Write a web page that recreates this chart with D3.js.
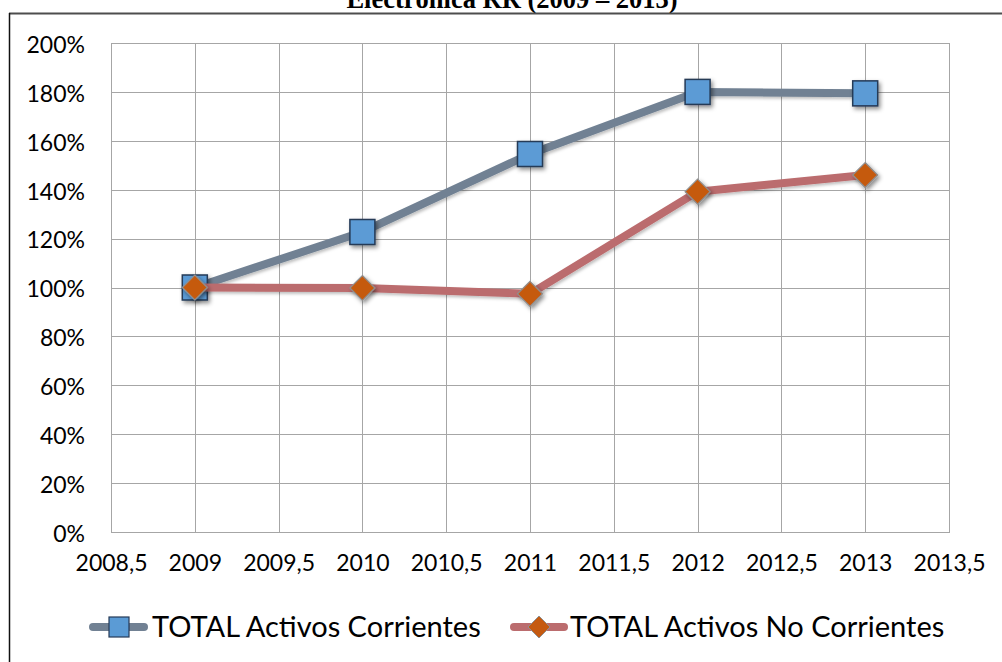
<!DOCTYPE html>
<html><head><meta charset="utf-8">
<script src="https://cdn.jsdelivr.net/npm/d3@7"></script>
<style>body{margin:0;background:#fff}svg{display:block}</style>
</head><body>
<svg id="c" width="1002" height="662"></svg>
<script>
const years = [2009, 2010, 2011, 2012, 2013];
const corrientes = [1.00, 1.227, 1.546, 1.80, 1.794];
const noCorrientes = [1.00, 0.998, 0.974, 1.392, 1.46];
const xTicks = [2008.5, 2009, 2009.5, 2010, 2010.5, 2011, 2011.5, 2012, 2012.5, 2013, 2013.5];
const yTicks = [0, 0.2, 0.4, 0.6, 0.8, 1.0, 1.2, 1.4, 1.6, 1.8, 2.0];
const seriesNames = ["TOTAL Activos Corrientes", "TOTAL Activos No Corrientes"];
const title = "Electrónica RR (2009 – 2013)";

const svg = d3.select("#c");
const m = {l: 111, t: 43, r: 949, b: 532};
const x = d3.scaleLinear().domain([2008.5, 2013.5]).range([m.l, m.r]);
const y = d3.scaleLinear().domain([0, 2]).range([m.b, m.t]);
const font = "Lato, 'Open Sans', sans-serif";

const defs = svg.append("defs");
const f = defs.append("filter").attr("id","sh").attr("x","-50%").attr("y","-50%").attr("width","200%").attr("height","200%");
f.append("feDropShadow").attr("dx",2).attr("dy",2.5).attr("stdDeviation",2).attr("flood-color","#000").attr("flood-opacity",0.45);
const f2 = defs.append("filter").attr("id","shl").attr("x","-10%").attr("y","-10%").attr("width","120%").attr("height","120%");
f2.append("feDropShadow").attr("dx",1.5).attr("dy",2).attr("stdDeviation",1.5).attr("flood-color","#000").attr("flood-opacity",0.25);

// title (partially cut at top, as in the reference)
svg.append("text").attr("x", 512).attr("y", 8).attr("text-anchor","middle")
  .attr("font-family","'Liberation Serif', 'Times New Roman', serif").attr("font-weight","bold")
  .attr("font-size", 26.5).attr("fill","#000").text(title);

// outer frame
svg.append("line").attr("x1",9).attr("x2",1002).attr("y1",13.5).attr("y2",13.5).attr("stroke","#4d4d4d").attr("stroke-width",2);
svg.append("line").attr("x1",9.5).attr("x2",9.5).attr("y1",13).attr("y2",662).attr("stroke","#111").attr("stroke-width",1.5);

// grid
const g = svg.append("g");
g.selectAll(".gx").data(xTicks).join("line").attr("x1",d=>Math.round(x(d))+0.5).attr("x2",d=>Math.round(x(d))+0.5)
  .attr("y1",m.t).attr("y2",m.b).attr("stroke","#a6a6a6").attr("stroke-width",1);
g.selectAll(".gy").data(yTicks).join("line").attr("y1",d=>Math.round(y(d))+0.5).attr("y2",d=>Math.round(y(d))+0.5)
  .attr("x1",m.l).attr("x2",m.r).attr("stroke","#a6a6a6").attr("stroke-width",1);

// axes labels via d3 axes
const yAxis = d3.axisLeft(y).tickValues(yTicks).tickSize(0).tickPadding(26).tickFormat(d=>Math.round(d*100)+"%");
const ya = svg.append("g").attr("transform",`translate(${m.l},2)`).call(yAxis);
const xAxis = d3.axisBottom(x).tickValues(xTicks).tickSize(0).tickPadding(23).tickFormat(d=>String(d).replace(".",","));
const xa = svg.append("g").attr("transform",`translate(0,${m.b})`).call(xAxis);
[ya, xa].forEach(a=>{a.select(".domain").remove();
  a.selectAll("text").attr("font-family",font).attr("font-size",23).attr("fill","#000");});

// lines
const line = d3.line().x((d,i)=>x(years[i])).y(d=>y(d));
const c1 = "#718193", c2 = "#bb6c6e";
svg.append("path").datum(corrientes).attr("d",line).attr("fill","none").attr("stroke",c1)
  .attr("stroke-width",8).attr("stroke-linejoin","round").attr("filter","url(#shl)");
svg.selectAll(".sq").data(corrientes).join("rect").attr("x",(d,i)=>x(years[i])-12.5).attr("y",d=>y(d)-12.5)
  .attr("width",25).attr("height",25).attr("fill","#5b9bd5").attr("stroke","#253a57").attr("stroke-width",1.5).attr("filter","url(#sh)");
svg.append("path").datum(noCorrientes).attr("d",line).attr("fill","none").attr("stroke",c2)
  .attr("stroke-width",8).attr("stroke-linejoin","round").attr("filter","url(#shl)");
const dia = (cx,cy,r)=>`M${cx},${cy-r}L${cx+r},${cy}L${cx},${cy+r}L${cx-r},${cy}Z`;
svg.selectAll(".dm").data(noCorrientes).join("path").attr("d",(d,i)=>dia(x(years[i]),y(d),12.5))
  .attr("fill","#c55a11").attr("stroke","#8f8f8f").attr("stroke-width",1.2).attr("filter","url(#sh)");

// plot border
svg.append("rect").attr("x",m.l+0.5).attr("y",m.t+0.5).attr("width",m.r-m.l).attr("height",m.b-m.t)
  .attr("fill","none").attr("stroke","#a6a6a6");

// legend
const ly = 627;
const lg = svg.append("g");
lg.append("line").attr("x1",93).attr("x2",144).attr("y1",ly).attr("y2",ly).attr("stroke",c1).attr("stroke-width",8).attr("stroke-linecap","round");
lg.append("rect").attr("x",109).attr("y",ly-10).attr("width",20).attr("height",20).attr("fill","#5b9bd5").attr("stroke","#253a57").attr("stroke-width",1.2);
lg.append("text").attr("x",152).attr("y",ly+10).attr("font-family",font).attr("font-size",29).attr("fill","#000").text(seriesNames[0]);
lg.append("line").attr("x1",514).attr("x2",564).attr("y1",ly).attr("y2",ly).attr("stroke",c2).attr("stroke-width",8).attr("stroke-linecap","round");
lg.append("path").attr("d",dia(539,ly,11)).attr("fill","#c55a11").attr("stroke","#8f8f8f").attr("stroke-width",1);
lg.append("text").attr("x",570).attr("y",ly+10).attr("font-family",font).attr("font-size",29).attr("fill","#000").text(seriesNames[1]);
</script>
</body></html>
